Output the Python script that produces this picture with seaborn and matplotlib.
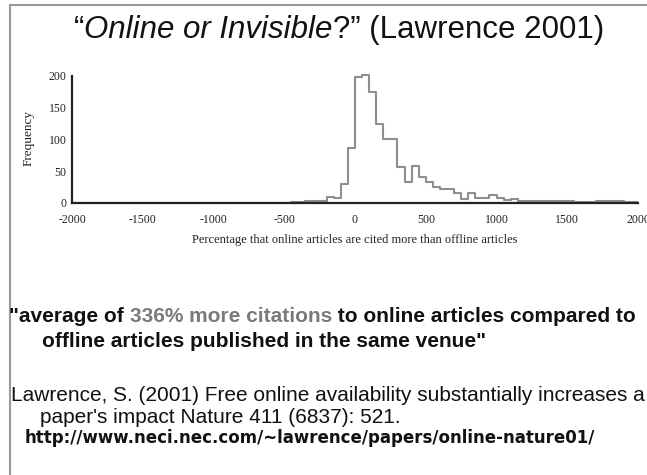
import numpy as np
import pandas as pd
import seaborn as sns
import matplotlib.pyplot as plt

## histogram, bins of 50 from -2000 to 2000
bin_left = np.arange(-2000, 2000, 50)
counts = np.zeros(len(bin_left))
tail_neg = [1, 1, 2, 2, 3, 9, 7, 29, 86]            # -450 .. 0
body = [198, 201, 174, 124, 100, 100, 57, 32, 58, 40,
        32, 24, 22, 21, 16, 6, 15, 8, 8, 12,
        8, 4, 6, 3, 2, 2, 3, 2, 3, 2,
        3, 1, 1, 1, 2, 3, 3, 2, 1, 1]                   # 0 .. 2000
counts[31:40] = tail_neg
counts[40:80] = body
bin_mid = bin_left + 25

xticks = [-2000, -1500, -1000, -500, 0, 500, 1000, 1500, 2000]
yticks = [0, 50, 100, 150, 200]

title_parts = [("\u201c", "normal"), ("Online or Invisible", "italic"),
               ("?\u201d (Lawrence 2001)", "normal")]
quote_parts = [("\"average of ", "#111111"), ("336% more citations", "#7a7a7a"),
               (" to online articles compared to", "#111111")]
quote_line2 = "offline articles published in the same venue\""
ref_line1 = "Lawrence, S. (2001) Free online availability substantially increases a"
ref_line2 = "paper's impact Nature 411 (6837): 521."
url = "http://www.neci.nec.com/~lawrence/papers/online-nature01/"

df = pd.DataFrame({"pct": bin_mid, "n": counts})

W, H = 647, 475
sns.set_style("white")
plt.rcParams['font.family'] = ['Liberation Sans', 'DejaVu Sans']
plt.rcParams['axes.unicode_minus'] = False
fig = plt.figure(figsize=(W / 100, H / 100), dpi=100)
ax = fig.add_axes([72 / W, 1 - 202.7 / H, (638 - 72) / W, (202.7 - 72.8) / H])

sns.histplot(data=df, x="pct", weights="n", bins=80, binrange=(-2000, 2000),
             element="step", fill=False, color="#8e8e8e", linewidth=1.5, ax=ax)
ax.set_xlim(-2000, 2000)
ax.set_ylim(0, 205)
ax.set_xticks(xticks)
ax.set_yticks(yticks)
ax.spines['left'].set_bounds(0, 200)
for s in ['top', 'right']:
    ax.spines[s].set_visible(False)
for s in ['left', 'bottom']:
    ax.spines[s].set_linewidth(1.6)
    ax.spines[s].set_color("#222222")
ax.tick_params(direction='in', length=4, width=1, colors="#222222")
ax.tick_params(axis='x', pad=8)
ax.tick_params(axis='y', pad=4)
for lab in ax.get_xticklabels() + ax.get_yticklabels():
    lab.set_family('Liberation Serif')
    lab.set_fontsize(8.5)
    lab.set_color("#222222")
ax.set_xlabel("Percentage that online articles are cited more than offline articles",
              family='Liberation Serif', fontsize=9, color="#222222", labelpad=6)
ax.set_ylabel("Frequency", family='Liberation Serif', fontsize=9.5, color="#222222", labelpad=10)

renderer = fig.canvas.get_renderer()


def runs(x_px, y_px, parts, **kw):
    # draw text pieces one after another on one baseline
    out = []
    x = x_px
    for txt, opts in parts:
        t = fig.text(x / W, 1 - y_px / H, txt, va='baseline', ha='left', **kw, **opts)
        x += t.get_window_extent(renderer).width
        out.append(t)
    return out, x - x_px


# title, centred on x=339
title_txt, tw = runs(0, 38, [(p, {"style": s}) for p, s in title_parts],
                     fontsize=22.5, color="#111111")
x = 339 - tw / 2
for t in title_txt:
    t.set_x(x / W)
    x += t.get_window_extent(renderer).width

runs(9, 322, [(p, {"color": c}) for p, c in quote_parts],
     fontsize=15, weight='bold')
fig.text(42 / W, 1 - 347 / H, quote_line2, va='baseline', fontsize=15, weight='bold',
         color="#111111")
fig.text(11 / W, 1 - 401 / H, ref_line1, va='baseline', fontsize=15, color="#111111")
fig.text(40 / W, 1 - 423 / H, ref_line2, va='baseline', fontsize=15, color="#111111")
fig.text(25 / W, 1 - 443 / H, url, va='baseline', fontsize=12, weight='bold', color="#111111",
         family='DejaVu Sans')

# slide frame lines
fig.add_artist(plt.Line2D([10 / W, 10 / W], [0, 1 - 5 / H], color="#9a9a9a", lw=1.5))
fig.add_artist(plt.Line2D([10 / W, 1], [1 - 5 / H, 1 - 5 / H], color="#9a9a9a", lw=1.5))

fig.savefig("out.png", dpi=100, facecolor="white")
